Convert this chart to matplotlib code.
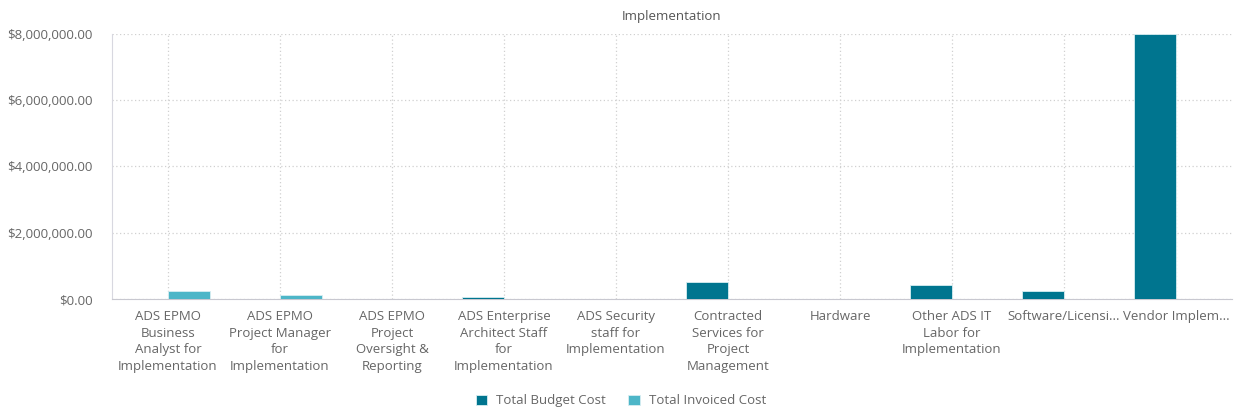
import matplotlib.pyplot as plt
from matplotlib.ticker import FuncFormatter
import numpy as np

plt.rcParams['font.family'] = ['Open Sans', 'DejaVu Sans']

categories = [
    "ADS EPMO\nBusiness\nAnalyst for\nImplementation",
    "ADS EPMO\nProject Manager\nfor\nImplementation",
    "ADS EPMO\nProject\nOversight &\nReporting",
    "ADS Enterprise\nArchitect Staff\nfor\nImplementation",
    "ADS Security\nstaff for\nImplementation",
    "Contracted\nServices for\nProject\nManagement",
    "Hardware",
    "Other ADS IT\nLabor for\nImplementation",
    "Software/Licensi...",
    "Vendor Implem...",
]
budget_cost = [0, 0, 0, 60000, 10000, 510000, 10000, 420000, 230000, 7990000]
invoiced_cost = [250000, 130000, 12000, 0, 0, 0, 0, 0, 0, 0]

budget_color = '#00758f'
invoiced_color = '#4db6c8'
text_color = '#666666'
grid_color = '#d0d0d0'

fig = plt.figure(figsize=(12.42, 4.15), dpi=100)
ax = fig.add_axes([0.0902, 0.2795, 0.9018, 0.6386])

x = np.arange(len(categories))
w = 0.375
ax.bar(x - w / 2, budget_cost, w, color=budget_color, edgecolor='#d8eef2',
       linewidth=0.6, label='Total Budget Cost', zorder=3)
ax.bar(x + w / 2, invoiced_cost, w, color=invoiced_color, edgecolor='#d8eef2',
       linewidth=0.6, label='Total Invoiced Cost', zorder=3)

ax.set_xlim(-0.5, len(categories) - 0.5)
ax.set_ylim(0, 8000000)
ax.set_yticks([0, 2000000, 4000000, 6000000, 8000000])
ax.yaxis.set_major_formatter(FuncFormatter(lambda v, p: f"${v:,.2f}"))
ax.set_xticks(x)
ax.set_xticklabels(categories, linespacing=1.35, va='top')

ax.grid(True, color=grid_color, linestyle=(0, (1, 2)), linewidth=0.9, zorder=0)
ax.tick_params(axis='both', length=0, colors=text_color, labelsize=9.5)
ax.tick_params(axis='x', pad=8)
ax.tick_params(axis='y', pad=14)

for s in ['top', 'right']:
    ax.spines[s].set_visible(False)
ax.spines['left'].set_color('#d8d8e0')
ax.spines['bottom'].set_color('#c8c8d0')
ax.spines['bottom'].set_linestyle((0, (1, 1)))

ax.set_title("Implementation", fontsize=9.5, color='#555555', pad=10)

fig.legend(loc='center', bbox_to_anchor=(0.5, 0.034), ncol=2, frameon=False,
           fontsize=9.5, labelcolor=text_color, handlelength=0.85, handleheight=0.85,
           columnspacing=1.7, handletextpad=0.7)

fig.savefig('out.png', dpi=100)
